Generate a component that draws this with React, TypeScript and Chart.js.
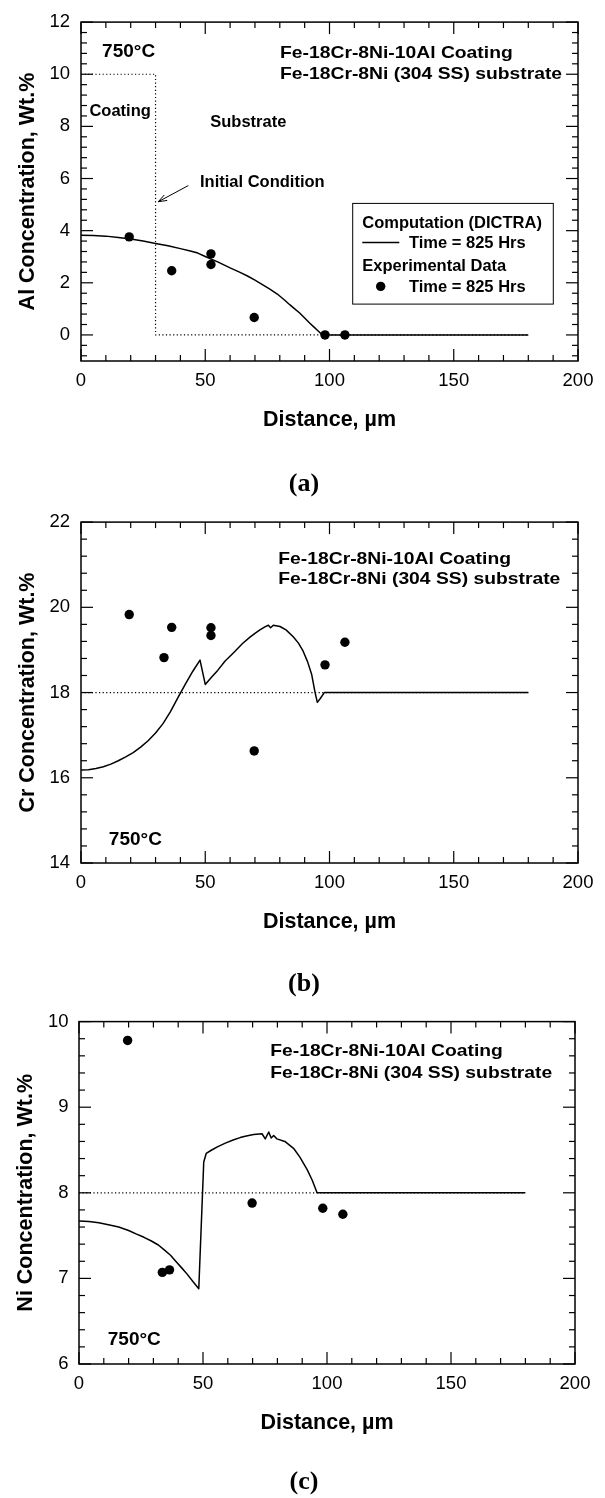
import React, { useEffect, useRef } from 'react';
import { Chart, registerables } from 'chart.js';

Chart.register(...registerables);

const FONT = "'Liberation Sans', Arial, Helvetica, sans-serif";
const SERIF = "'Liberation Serif', 'Times New Roman', Times, serif";

// ---------- shared axis data ----------
const xMajorTicks = [0, 50, 100, 150, 200];
const xMinorStep = 10;
const xTitle = 'Distance, µm';

// ---------- panel (a): Al ----------
const alCurveX = [0, 5, 10, 15, 20, 25, 30, 35, 40, 44, 47, 50, 55, 60, 64, 67, 70, 73, 76, 79, 82, 84, 86, 88, 90, 92, 94, 95, 96, 97, 180];
const alCurveY = [3.82, 3.81, 3.79, 3.74, 3.68, 3.6, 3.51, 3.42, 3.31, 3.22, 3.14, 3.01, 2.8, 2.57, 2.4, 2.26, 2.1, 1.93, 1.76, 1.57, 1.33, 1.16, 1.0, 0.84, 0.65, 0.46, 0.28, 0.19, 0.1, 0, 0];
const alInitX = [0, 30, 30, 180];
const alInitY = [10, 10, 0, 0];
const alExpX = [19.4, 36.5, 52.3, 52.3, 69.7, 98.2, 106.2];
const alExpY = [3.76, 2.46, 3.11, 2.7, 0.67, 0, 0];
const alYTicks = [0, 2, 4, 6, 8, 10, 12];

// ---------- panel (b): Cr ----------
const crCurveX = [0, 3, 6, 9, 12, 15, 18, 21, 24, 27, 30, 33, 36, 39, 42, 45, 47.9, 50, 52.5, 55, 58, 61.3, 65, 68, 70, 72, 74, 75.4, 76.3, 77.4, 80.1, 82.5, 85.4, 87.5, 89.4, 91.2, 92.8, 94.2, 95.1, 96.3, 97.9, 180];
const crCurveY = [16.18, 16.19, 16.22, 16.26, 16.32, 16.4, 16.49, 16.59, 16.72, 16.87, 17.05, 17.27, 17.55, 17.88, 18.2, 18.5, 18.76, 18.19, 18.36, 18.52, 18.74, 18.93, 19.15, 19.3, 19.39, 19.47, 19.54, 19.58, 19.52, 19.58, 19.55, 19.47, 19.31, 19.16, 18.97, 18.72, 18.43, 18.0, 17.77, 17.86, 18.0, 18.0];
const crInitX = [0, 180];
const crInitY = [18, 18];
const crExpX = [19.4, 33.4, 36.5, 52.3, 52.3, 69.7, 98.2, 106.2];
const crExpY = [19.83, 18.82, 19.53, 19.52, 19.34, 16.63, 18.65, 19.18];
const crYTicks = [14, 16, 18, 20, 22];

// ---------- panel (c): Ni ----------
const niCurveX = [0, 4, 8, 12.8, 16, 20, 23, 26.2, 29, 32, 34.5, 36.9, 39, 41.5, 43.6, 46, 48.3, 50.3, 51.3, 53.5, 56, 59, 62.4, 65, 67, 70.4, 73.8, 75.1, 76.5, 77.5, 78.5, 79.8, 83, 86.5, 89, 92, 94, 96, 180];
const niCurveY = [7.67, 7.665, 7.65, 7.62, 7.6, 7.56, 7.52, 7.48, 7.44, 7.39, 7.33, 7.27, 7.2, 7.12, 7.05, 6.96, 6.88, 8.36, 8.46, 8.5, 8.54, 8.58, 8.62, 8.645, 8.66, 8.68, 8.69, 8.63, 8.71, 8.64, 8.67, 8.63, 8.6, 8.52, 8.42, 8.27, 8.15, 8.0, 8.0];
const niInitX = [0, 180];
const niInitY = [8, 8];
const niExpX = [19.6, 33.6, 36.5, 69.8, 98.3, 106.4];
const niExpY = [9.78, 7.07, 7.1, 7.88, 7.82, 7.75];
const niYTicks = [6, 7, 8, 9, 10];

// ---------- text ----------
const headerLines = ['Fe-18Cr-8Ni-10Al Coating', 'Fe-18Cr-8Ni (304 SS) substrate'];
const tempLabel = '750°C';
const legendLines = ['Computation (DICTRA)', 'Time = 825 Hrs', 'Experimental Data', 'Time = 825 Hrs'];

type Note = { text: string; x: number; y: number; size: number; sx?: number };

interface PanelSpec {
  top: number;
  height: number;
  plotTop: number;
  plotBottom: number;
  plotLeft: number;
  plotRight: number;
  yTitlePad: number;
  yTickPad: number;
  yLabel: string;
  yMin: number;
  yMax: number;
  yTicks: number[];
  yMinorStep: number;
  curveX: number[];
  curveY: number[];
  initX: number[];
  initY: number[];
  expX: number[];
  expY: number[];
  notes: Note[];
  tag: string;
  tagY: number;
  legend?: boolean;
  arrow?: { x1: number; y1: number; x2: number; y2: number };
}

const HS = 17;
const HSX = 1.135;

const panels: PanelSpec[] = [
  {
    top: 0, height: 500, plotTop: 13, plotBottom: 361, plotLeft: 81, plotRight: 578,
    yTitlePad: 15, yTickPad: 11,
    yLabel: 'Al Concentration, Wt.%', yMin: -1, yMax: 12, yTicks: alYTicks, yMinorStep: 0.4,
    curveX: alCurveX, curveY: alCurveY, initX: alInitX, initY: alInitY, expX: alExpX, expY: alExpY,
    notes: [
      { text: tempLabel, x: 8.5, y: 10.93, size: 19 },
      { text: headerLines[0], x: 80.1, y: 10.87, size: HS, sx: HSX },
      { text: headerLines[1], x: 80.1, y: 10.06, size: HS, sx: HSX },
      { text: 'Coating', x: 3.4, y: 8.62, size: 16.5 },
      { text: 'Substrate', x: 52, y: 8.21, size: 16.5 },
      { text: 'Initial Condition', x: 47.9, y: 5.91, size: 16.5 },
    ],
    tag: '(a)', tagY: 485, legend: true,
    arrow: { x1: 43.2, y1: 5.73, x2: 31.1, y2: 5.11 },
  },
  {
    top: 500, height: 500, plotTop: 14, plotBottom: 363, plotLeft: 81, plotRight: 578,
    yTitlePad: 15, yTickPad: 11,
    yLabel: 'Cr Concentration, Wt.%', yMin: 14, yMax: 22, yTicks: crYTicks, yMinorStep: 0.4,
    curveX: crCurveX, curveY: crCurveY, initX: crInitX, initY: crInitY, expX: crExpX, expY: crExpY,
    notes: [
      { text: headerLines[0], x: 79.4, y: 21.17, size: HS, sx: HSX },
      { text: headerLines[1], x: 79.4, y: 20.68, size: HS, sx: HSX },
      { text: tempLabel, x: 11.2, y: 14.58, size: 19 },
    ],
    tag: '(b)', tagY: 485,
  },
  {
    top: 1000, height: 498, plotTop: 16, plotBottom: 364, plotLeft: 79, plotRight: 575,
    yTitlePad: 13, yTickPad: 10.5,
    yLabel: 'Ni Concentration, Wt.%', yMin: 6, yMax: 10, yTicks: niYTicks, yMinorStep: 0.2,
    curveX: niCurveX, curveY: niCurveY, initX: niInitX, initY: niInitY, expX: niExpX, expY: niExpY,
    notes: [
      { text: headerLines[0], x: 77.1, y: 9.67, size: HS, sx: HSX },
      { text: headerLines[1], x: 77.1, y: 9.41, size: HS, sx: HSX },
      { text: tempLabel, x: 11.6, y: 6.3, size: 19 },
    ],
    tag: '(c)', tagY: 483,
  },
];

const toXY = (xs: number[], ys: number[]) => xs.map((x, i) => ({ x, y: ys[i] }));

function drawLabel(ctx: CanvasRenderingContext2D, text: string, px: number, py: number, size: number, sx = 1) {
  ctx.save();
  ctx.font = `bold ${size}px ${FONT}`;
  ctx.fillStyle = '#000';
  ctx.textAlign = 'left';
  ctx.textBaseline = 'alphabetic';
  ctx.translate(px, py + 0.358 * size);
  ctx.scale(sx, 1);
  ctx.fillText(text, 0, 0);
  ctx.restore();
}

function line(ctx: CanvasRenderingContext2D, x1: number, y1: number, x2: number, y2: number) {
  ctx.beginPath();
  ctx.moveTo(x1, y1);
  ctx.lineTo(x2, y2);
  ctx.stroke();
}

function makeDecor(spec: PanelSpec) {
  return {
    id: 'decor',
    afterDraw(chart: any) {
      const ctx: CanvasRenderingContext2D = chart.ctx;
      const { left, right, top, bottom } = chart.chartArea;
      const xs = chart.scales.x;
      const ys = chart.scales.y;
      ctx.save();
      ctx.strokeStyle = '#000';
      ctx.lineWidth = 1.2;
      // x ticks (bottom & top, inward)
      for (let v = 0; v <= 200 + 1e-9; v += xMinorStep) {
        const major = xMajorTicks.some((m) => Math.abs(m - v) < 1e-6);
        const len = major ? 12 : 6;
        const px = xs.getPixelForValue(v);
        line(ctx, px, bottom, px, bottom - len);
        line(ctx, px, top, px, top + len);
      }
      // y ticks (left & right, inward)
      const base = spec.yTicks[0];
      const kMin = Math.ceil((spec.yMin - base) / spec.yMinorStep - 1e-6);
      const kMax = Math.floor((spec.yMax - base) / spec.yMinorStep + 1e-6);
      for (let k = kMin; k <= kMax; k++) {
        const v = base + k * spec.yMinorStep;
        const major = spec.yTicks.some((m) => Math.abs(m - v) < 1e-6);
        const len = major ? 12 : 6;
        const py = ys.getPixelForValue(v);
        line(ctx, left, py, left + len, py);
        line(ctx, right, py, right - len, py);
      }
      // frame
      ctx.lineWidth = 1.5;
      ctx.strokeRect(left, top, right - left, bottom - top);

      // notes
      for (const n of spec.notes) {
        drawLabel(ctx, n.text, xs.getPixelForValue(n.x), ys.getPixelForValue(n.y), n.size, n.sx ?? 1);
      }

      // arrow
      if (spec.arrow) {
        const a = spec.arrow;
        const x1 = xs.getPixelForValue(a.x1), y1 = ys.getPixelForValue(a.y1);
        const x2 = xs.getPixelForValue(a.x2), y2 = ys.getPixelForValue(a.y2);
        ctx.lineWidth = 1;
        line(ctx, x1, y1, x2, y2);
        const ang = Math.atan2(y1 - y2, x1 - x2);
        const hl = 9;
        for (const d of [0.35, -0.35]) {
          line(ctx, x2, y2, x2 + hl * Math.cos(ang + d), y2 + hl * Math.sin(ang + d));
        }
      }

      // legend box
      if (spec.legend) {
        const bx = left + 271.7;
        const by = top + 181.3;
        const bw = 200.6;
        const bh = 100.7;
        ctx.lineWidth = 1;
        ctx.strokeRect(bx, by, bw, bh);
        drawLabel(ctx, legendLines[0], bx + 9.6, by + 18.4, 16.5);
        ctx.lineWidth = 1.5;
        line(ctx, bx + 9.6, by + 39, bx + 46.6, by + 39);
        drawLabel(ctx, legendLines[1], bx + 56.3, by + 39, 16.5);
        drawLabel(ctx, legendLines[2], bx + 9.6, by + 61.4, 16.5);
        ctx.fillStyle = '#000';
        ctx.beginPath();
        ctx.arc(bx + 28, by + 83, 4.7, 0, Math.PI * 2);
        ctx.fill();
        drawLabel(ctx, legendLines[3], bx + 56.3, by + 83, 16.5);
      }

      // panel tag
      ctx.font = `bold 26px ${SERIF}`;
      ctx.fillStyle = '#000';
      ctx.textAlign = 'center';
      ctx.textBaseline = 'alphabetic';
      ctx.fillText(spec.tag, 304, spec.tagY + 6.4);
      ctx.restore();
    },
  };
}

function Panel({ spec }: { spec: PanelSpec }) {
  const ref = useRef<HTMLCanvasElement>(null);
  useEffect(() => {
    const canvas = ref.current;
    if (!canvas) return;
    const chart = new Chart(canvas, {
      type: 'scatter',
      data: {
        datasets: [
          {
            label: 'Initial',
            data: toXY(spec.initX, spec.initY),
            showLine: true,
            borderColor: '#000',
            borderWidth: 1.2,
            borderDash: [1.2, 2.4],
            pointRadius: 0,
            tension: 0,
            order: 3,
          },
          {
            label: 'Computation',
            data: toXY(spec.curveX, spec.curveY),
            showLine: true,
            borderColor: '#000',
            borderWidth: 1.5,
            borderJoinStyle: 'round',
            pointRadius: 0,
            tension: 0,
            order: 2,
          },
          {
            label: 'Experimental',
            data: toXY(spec.expX, spec.expY),
            showLine: false,
            pointRadius: 4.7,
            pointBackgroundColor: '#000',
            pointBorderWidth: 0,
            backgroundColor: '#000',
            borderColor: '#000',
            order: 1,
          },
        ],
      } as any,
      options: {
        animation: false,
        responsive: false,
        maintainAspectRatio: false,
        devicePixelRatio: 1,
        layout: {
          padding: {
            left: 0,
            top: spec.plotTop,
            right: 605 - spec.plotRight,
            bottom: spec.height - spec.plotBottom - 72,
          },
        },
        plugins: {
          legend: { display: false },
          tooltip: { enabled: false },
          title: { display: false },
        },
        scales: {
          x: {
            type: 'linear',
            position: 'bottom',
            min: 0,
            max: 200,
            afterBuildTicks: (s: any) => {
              s.ticks = xMajorTicks.map((value) => ({ value }));
            },
            afterFit: (s: any) => {
              s.height = 72;
            },
            grid: { display: false, drawTicks: false },
            border: { display: false },
            ticks: {
              color: '#000',
              font: { family: FONT, size: 18.5 },
              padding: 9,
              maxRotation: 0,
              autoSkip: false,
            },
            title: {
              display: true,
              text: xTitle,
              color: '#000',
              font: { family: FONT, size: 21.5, weight: 'bold' },
              padding: 0,
            },
          },
          y: {
            type: 'linear',
            position: 'left',
            min: spec.yMin,
            max: spec.yMax,
            afterBuildTicks: (s: any) => {
              s.ticks = spec.yTicks.map((value) => ({ value }));
            },
            afterFit: (s: any) => {
              s.width = spec.plotLeft;
            },
            grid: { display: false, drawTicks: false },
            border: { display: false },
            ticks: {
              color: '#000',
              font: { family: FONT, size: 18.5 },
              padding: spec.yTickPad,
              autoSkip: false,
            },
            title: {
              display: true,
              text: spec.yLabel,
              color: '#000',
              font: { family: FONT, size: 21.5, weight: 'bold' },
              padding: { top: spec.yTitlePad, bottom: 0 },
            },
          },
        },
      } as any,
      plugins: [makeDecor(spec)],
    });
    return () => chart.destroy();
  }, [spec]);

  return (
    <canvas
      ref={ref}
      width={605}
      height={spec.height}
      style={{ position: 'absolute', left: 0, top: spec.top, width: 605, height: spec.height, display: 'block' }}
    />
  );
}

export default function App() {
  return (
    <div style={{ position: 'absolute', left: 0, top: 0, width: 605, height: 1498, background: '#fff' }}>
      {panels.map((p) => (
        <Panel key={p.tag} spec={p} />
      ))}
    </div>
  );
}
